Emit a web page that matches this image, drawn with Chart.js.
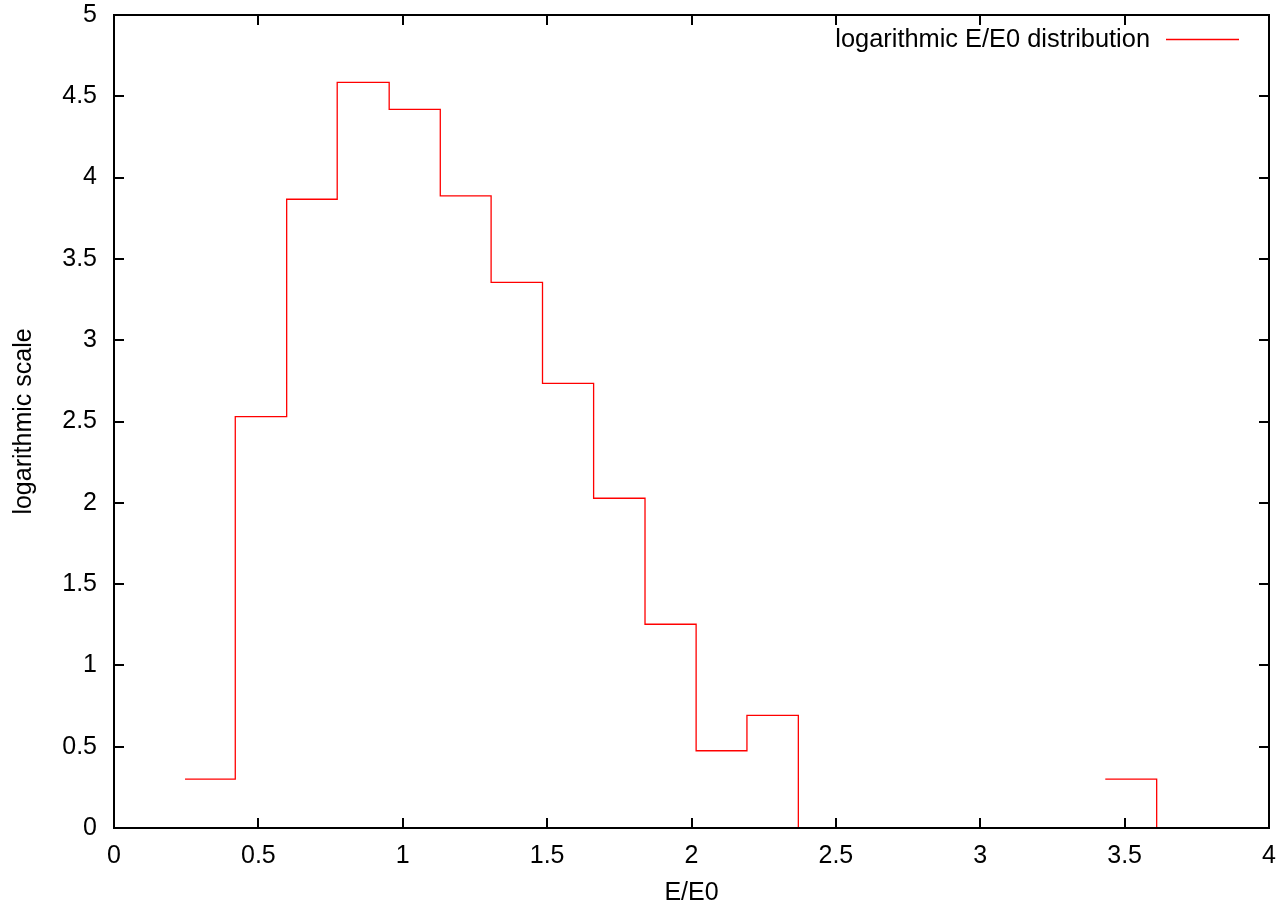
<!DOCTYPE html>
<html>
<head>
<meta charset="utf-8">
<script src="https://cdn.jsdelivr.net/npm/chart.js@4/dist/chart.umd.min.js"></script>
<style>
  html, body { margin: 0; padding: 0; background: #ffffff; }
  canvas { display: block; }
</style>
</head>
<body>
<canvas id="c" width="1276" height="904"></canvas>
<script>
// ---- data ----
const seriesLabel = "logarithmic E/E0 distribution";
// bin edges (E/E0) of the first contiguous run of bins
const binEdgesA = [0.246, 0.420, 0.598, 0.773, 0.953, 1.130, 1.306, 1.484, 1.661, 1.839, 2.016, 2.192, 2.370];
// log10 counts in those bins
const binValuesA = [0.301, 2.530, 3.867, 4.586, 4.420, 3.888, 3.356, 2.735, 2.028, 1.253, 0.475, 0.693];
// isolated bin far right
const binEdgesB = [3.433, 3.611];
const binValuesB = [0.301];

const xTickValues = [0, 0.5, 1, 1.5, 2, 2.5, 3, 3.5, 4];
const yTickValues = [0, 0.5, 1, 1.5, 2, 2.5, 3, 3.5, 4, 4.5, 5];
const xTitle = "E/E0";
const yTitle = "logarithmic scale";

// ---- build step points ----
function stepPoints(edges, values) {
  const pts = values.map((v, i) => ({ x: edges[i], y: v }));
  pts.push({ x: edges[edges.length - 1], y: 0 });
  return pts;
}
const points = stepPoints(binEdgesA, binValuesA)
  .concat([{ x: (binEdgesA[binEdgesA.length - 1] + binEdgesB[0]) / 2, y: null }])
  .concat(stepPoints(binEdgesB, binValuesB));

const FONT = "'Liberation Sans', Arial, Helvetica, sans-serif";
const FS = 25;
const RED = '#ff0000';

const framePlugin = {
  id: 'frame',
  afterDatasetsDraw(chart) {
    const { ctx, chartArea: a, scales } = chart;
    ctx.save();
    ctx.strokeStyle = '#000';
    ctx.lineWidth = 2;
    ctx.beginPath();
    ctx.rect(a.left, a.top, a.right - a.left, a.bottom - a.top);
    ctx.stroke();
    const L = 10;
    ctx.beginPath();
    scales.x.ticks.forEach((t, i) => {
      const px = Math.round(scales.x.getPixelForTick(i));
      ctx.moveTo(px, a.bottom); ctx.lineTo(px, a.bottom - L);
      ctx.moveTo(px, a.top); ctx.lineTo(px, a.top + L);
    });
    scales.y.ticks.forEach((t, i) => {
      const py = Math.round(scales.y.getPixelForTick(i));
      ctx.moveTo(a.left, py); ctx.lineTo(a.left + L, py);
      ctx.moveTo(a.right, py); ctx.lineTo(a.right - L, py);
    });
    ctx.stroke();
    // legend (gnuplot-style key, top right)
    const ds = chart.data.datasets[0];
    ctx.font = (FS + 0.4) + 'px ' + FONT;
    ctx.fillStyle = '#000';
    ctx.textAlign = 'right';
    ctx.textBaseline = 'middle';
    ctx.fillText(ds.label, 1150, 40);
    ctx.strokeStyle = RED;
    ctx.lineWidth = 1.3;
    ctx.beginPath();
    ctx.moveTo(1166, 39.5); ctx.lineTo(1239, 39.5);
    ctx.stroke();
    ctx.restore();
  }
};

function zeroPad(s) { s.paddingLeft = 0; s.paddingRight = 0; s.paddingTop = 0; s.paddingBottom = 0; }

new Chart(document.getElementById('c'), {
  type: 'line',
  data: {
    datasets: [{
      label: seriesLabel,
      data: points,
      stepped: true,
      borderColor: RED,
      borderWidth: 1.3,
      pointRadius: 0,
      fill: false,
      spanGaps: false
    }]
  },
  options: {
    responsive: false,
    devicePixelRatio: 1,
    animation: false,
    layout: { padding: { left: 0, right: 7, top: 15, bottom: 0 } },
    plugins: { legend: { display: false }, tooltip: { enabled: false } },
    scales: {
      x: {
        type: 'linear',
        min: 0, max: 4,
        afterBuildTicks: s => { s.ticks = xTickValues.map(v => ({ value: v })); },
        afterFit: s => { s.height = 76; zeroPad(s); },
        grid: { drawOnChartArea: false, drawTicks: false },
        border: { display: false },
        ticks: {
          color: '#000',
          padding: 13,
          maxRotation: 0,
          autoSkip: false,
          font: { family: FONT, size: FS, lineHeight: 1.2 },
          callback: v => String(+Number(v).toFixed(2))
        },
        title: {
          display: true, text: xTitle, color: '#000',
          font: { family: FONT, size: FS, lineHeight: 1 },
          padding: { top: 0, bottom: -2 }
        }
      },
      y: {
        type: 'linear',
        min: 0, max: 5,
        afterBuildTicks: s => { s.ticks = yTickValues.map(v => ({ value: v })); },
        afterFit: s => { s.width = 114; zeroPad(s); },
        grid: { drawOnChartArea: false, drawTicks: false },
        border: { display: false },
        ticks: {
          color: '#000',
          padding: 17,
          autoSkip: false,
          font: { family: FONT, size: FS },
          callback: v => String(+Number(v).toFixed(2))
        },
        title: {
          display: true, text: yTitle, color: '#000',
          font: { family: FONT, size: FS, lineHeight: 1 },
          padding: { top: 12, bottom: 0 }
        }
      }
    }
  },
  plugins: [framePlugin]
});
</script>
</body>
</html>
